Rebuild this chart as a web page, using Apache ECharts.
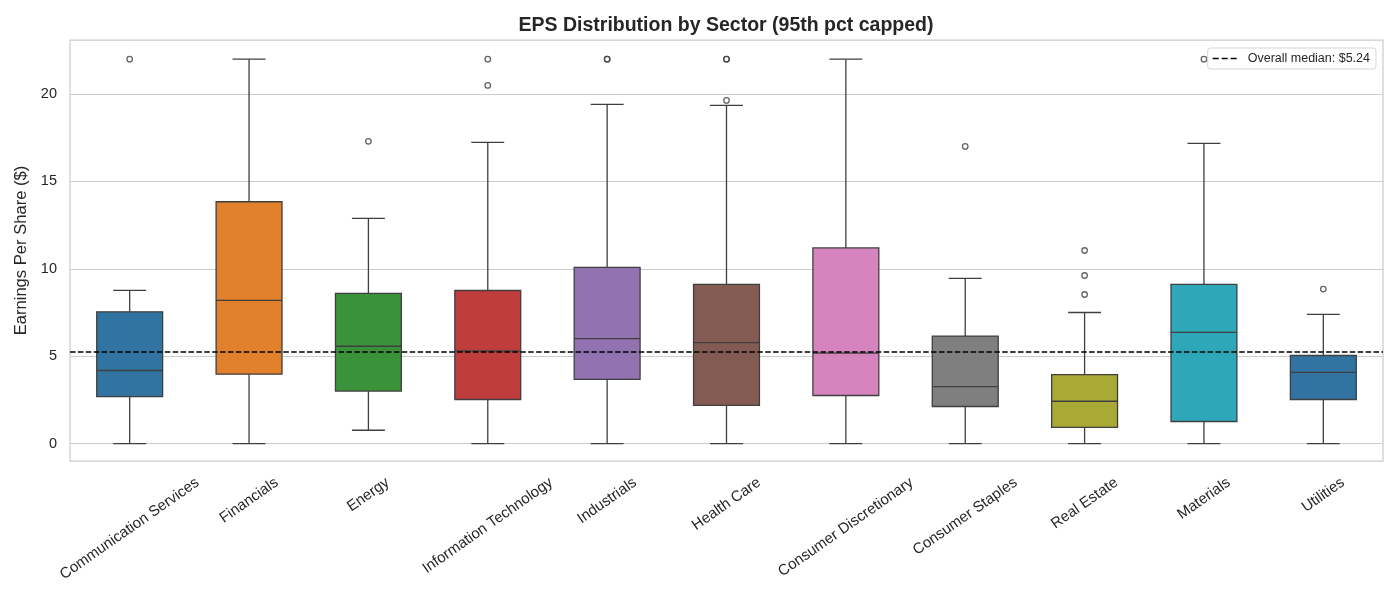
<!DOCTYPE html>
<html>
<head>
<meta charset="utf-8">
<title>EPS Distribution by Sector</title>
<script src="https://cdn.jsdelivr.net/npm/echarts@6/dist/echarts.min.js"></script>
<style>
  html, body { margin: 0; padding: 0; background: #fff; }
  #chart { width: 1400px; height: 600px; }
</style>
</head>
<body>
<div id="chart"></div>
<script>
// values
const sectors = ['Communication Services', 'Financials', 'Energy', 'Information Technology', 'Industrials',
  'Health Care', 'Consumer Discretionary', 'Consumer Staples', 'Real Estate', 'Materials', 'Utilities'];
const whiskerLow = [0, 0, 0.76, 0, 0, 0, 0, 0, 0, 0, 0];
const q1 = [2.69, 3.97, 3.0, 2.52, 3.67, 2.18, 2.75, 2.12, 0.92, 1.26, 2.52];
const medians = [4.18, 8.19, 5.57, 5.3, 6.01, 5.78, 5.17, 3.26, 2.42, 6.36, 4.07];
const q3 = [7.54, 13.84, 8.59, 8.76, 10.08, 9.11, 11.2, 6.15, 3.95, 9.11, 5.04];
const whiskerHigh = [8.77, 22, 12.89, 17.24, 19.41, 19.36, 22, 9.45, 7.5, 17.18, 7.39];
const outliers = [[22], [], [17.3], [22, 20.5], [22, 22], [22, 22, 19.64], [], [17.01], [11.05, 9.62, 8.53], [22], [8.84]];
const overallMedian = 5.24;
const yTicks = [0, 5, 10, 15, 20];

const boxColors = ['#3274a1', '#e1812c', '#3a923a', '#c03d3e', '#9372b2', '#845b53',
  '#d684bd', '#7f7f7f', '#a9aa35', '#2ea8b8', '#3274a1'];

const FONT = '"Liberation Sans", Arial, Helvetica, sans-serif';
const INK = '#262626';
const EDGE = '#3f3f3f';
const LABEL_SIZE = 15;
const LABEL_ROT = 35 * Math.PI / 180;

const measureCtx = document.createElement('canvas').getContext('2d');
measureCtx.font = LABEL_SIZE + 'px ' + FONT;

// 箱体 + 须线
function renderBox(params, api) {
    const i = api.value(0);
    const band = api.size([1, 0])[0];
    const half = band * 0.276;
    const cap = half / 2;
    const x = api.coord([i, 0])[0];
    const yLow = api.coord([i, api.value(1)])[1];
    const yQ1 = api.coord([i, api.value(2)])[1];
    const yMed = api.coord([i, api.value(3)])[1];
    const yQ3 = api.coord([i, api.value(4)])[1];
    const yHigh = api.coord([i, api.value(5)])[1];
    const stroke = { stroke: EDGE, lineWidth: 1.3 };
    return {
        type: 'group',
        children: [
            { type: 'line', shape: { x1: x, y1: yLow, x2: x, y2: yQ1 }, style: stroke },
            { type: 'line', shape: { x1: x, y1: yQ3, x2: x, y2: yHigh }, style: stroke },
            { type: 'line', shape: { x1: x - cap, y1: yLow, x2: x + cap, y2: yLow }, style: stroke },
            { type: 'line', shape: { x1: x - cap, y1: yHigh, x2: x + cap, y2: yHigh }, style: stroke },
            {
                type: 'rect',
                shape: { x: x - half, y: yQ3, width: half * 2, height: yQ1 - yQ3 },
                style: { fill: boxColors[i], stroke: EDGE, lineWidth: 1.3 }
            },
            { type: 'line', shape: { x1: x - half, y1: yMed, x2: x + half, y2: yMed }, style: stroke }
        ]
    };
}

// matplotlib 风格的旋转刻度标签（包围盒居中于刻度）
function renderLabel(params, api) {
    const i = api.value(0);
    const x = api.coord([i, 0])[0];
    const top = params.coordSys.y + params.coordSys.height + 14;
    const text = sectors[i];
    const w = measureCtx.measureText(text).width;
    const h = LABEL_SIZE;
    const hy = (w * Math.sin(LABEL_ROT) + h * Math.cos(LABEL_ROT)) / 2;
    return {
        type: 'text',
        x: x,
        y: top + hy,
        rotation: LABEL_ROT,
        style: {
            text: text,
            fill: INK,
            font: LABEL_SIZE + 'px ' + FONT,
            align: 'center',
            verticalAlign: 'middle'
        }
    };
}

const boxData = sectors.map((s, i) => [i, whiskerLow[i], q1[i], medians[i], q3[i], whiskerHigh[i]]);
const outlierData = [];
outliers.forEach((vals, i) => vals.forEach(v => outlierData.push([i, v])));
const medianName = 'Overall median: $' + overallMedian.toFixed(2);

const chart = echarts.init(document.getElementById('chart'), null, { renderer: 'canvas' });

chart.setOption({
    backgroundColor: '#ffffff',
    animation: false,
    textStyle: { fontFamily: FONT },
    title: {
        text: 'EPS Distribution by Sector (95th pct capped)',
        left: 726,
        top: 16,
        padding: 0,
        textAlign: 'center',
        textStyle: { fontSize: 19.5, fontWeight: 'bold', color: INK, fontFamily: FONT }
    },
    legend: {
        data: [{
            name: medianName,
            icon: 'path://M0,0h6v1.6h-6z M9,0h6v1.6h-6z M18,0h6v1.6h-6z',
            itemStyle: { color: '#000000', borderWidth: 0 }
        }],
        right: 24,
        top: 48,
        padding: [4, 6, 4, 5],
        itemWidth: 24,
        itemHeight: 1.6,
        borderColor: '#d5d5d5',
        borderWidth: 1,
        borderRadius: 3,
        backgroundColor: 'rgba(255,255,255,0.85)',
        textStyle: { fontSize: 12.5, color: INK, fontFamily: FONT, padding: [0, 0, 0, 6] }
    },
    grid: {
        left: 70,
        right: 17,
        top: 40,
        bottom: 139,
        show: true,
        borderColor: '#cccccc',
        borderWidth: 1.25,
        containLabel: false
    },
    xAxis: {
        type: 'category',
        data: sectors,
        boundaryGap: true,
        axisLine: { show: false },
        axisTick: { show: false },
        axisLabel: { show: false },
        splitLine: { show: false }
    },
    yAxis: {
        type: 'value',
        min: -1.0,
        max: 23.1,
        name: 'Earnings Per Share ($)',
        nameLocation: 'middle',
        nameGap: 36,
        nameRotate: 90,
        nameTextStyle: { fontSize: 16.6, color: INK, fontFamily: FONT },
        axisLine: { show: false },
        axisTick: { show: false, customValues: yTicks },
        axisLabel: { customValues: yTicks, fontSize: 14.5, color: INK, margin: 13, fontFamily: FONT },
        splitLine: { show: true, lineStyle: { color: '#cccccc', width: 1 } }
    },
    series: [
        {
            type: 'custom',
            name: 'boxes',
            renderItem: renderBox,
            data: boxData,
            encode: { x: 0, y: [1, 2, 3, 4, 5] },
            z: 2
        },
        {
            type: 'scatter',
            name: 'outliers',
            data: outlierData,
            symbol: 'circle',
            symbolSize: 5.5,
            itemStyle: { color: 'rgba(0,0,0,0)', borderColor: EDGE, borderWidth: 1.3 },
            z: 3
        },
        {
            type: 'line',
            name: medianName,
            data: [],
            symbol: 'none',
            color: '#000000',
            lineStyle: { color: '#000000', width: 1.5, type: [5.5, 2.4] },
            markLine: {
                silent: true,
                symbol: 'none',
                label: { show: false },
                lineStyle: { color: '#000000', width: 1.5, type: [5.5, 2.4] },
                data: [{ yAxis: overallMedian }]
            },
            z: 4
        },
        {
            type: 'custom',
            name: 'labels',
            renderItem: renderLabel,
            data: sectors.map((s, i) => [i, 0]),
            encode: { x: 0, y: 1 },
            clip: false,
            silent: true,
            z: 5
        }
    ]
});
</script>
</body>
</html>
